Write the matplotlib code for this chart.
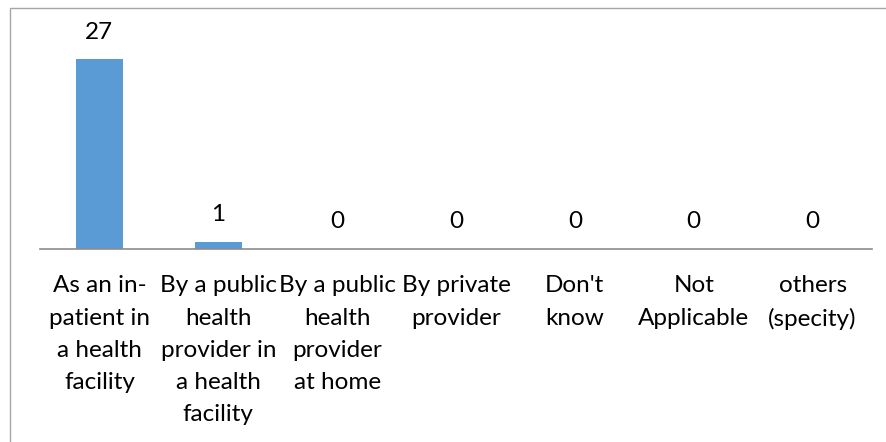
import matplotlib
matplotlib.use("Agg")
import matplotlib.pyplot as plt
from matplotlib.patches import Rectangle

categories = [
    "As an in-\npatient in\na health\nfacility",
    "By a public\nhealth\nprovider in\na health\nfacility",
    "By a public\nhealth\nprovider\nat home",
    "By private\nprovider",
    "Don't\nknow",
    "Not\nApplicable",
    "others\n(specity)",
]
counts = [27, 1, 0, 0, 0, 0, 0]

BAR_COLOR = "#5B9BD5"
AXIS_COLOR = "#8C8C8C"
FONT = "Lato"
FS = 17.5

W, H = 886, 442
fig = plt.figure(figsize=(W / 100, H / 100), dpi=100)

# chart frame (open to the right and bottom)
fig.patches.append(Rectangle((10 / W, -0.1), 1.2, 1 - 8 / H + 0.1,
                             transform=fig.transFigure, fill=False,
                             edgecolor="#A6A6A6", linewidth=1.0))

left, right = 40 / W, 872 / W
bottom, top = 1 - 249 / H, 1 - 38 / H
ax = fig.add_axes([left, bottom, right - left, top - bottom])

x = list(range(len(categories)))
bars = ax.bar(x, counts, width=0.395, color=BAR_COLOR, zorder=2)

ax.set_xlim(-0.5, len(categories) - 0.5)
ax.set_ylim(0, 30)

for spine in ["top", "right", "left"]:
    ax.spines[spine].set_visible(False)
ax.spines["bottom"].set_color(AXIS_COLOR)
ax.spines["bottom"].set_linewidth(1.2)
ax.set_yticks([])
ax.set_xticks([])

# value labels above each bar
for xi, v in zip(x, counts):
    ax.annotate(str(v), xy=(xi, v), xytext=(0, 19.5), textcoords="offset points",
                ha="center", va="center", fontsize=FS, fontfamily=FONT,
                color="#000000")

# category labels below the axis
for xi, lab in zip(x, categories):
    ax.annotate(lab, xy=(xi, 0), xycoords="data", xytext=(0, -19),
                textcoords="offset points", ha="center", va="top",
                multialignment="center", fontsize=FS, fontfamily=FONT,
                linespacing=1.66, color="#000000")

fig.savefig("out.png", dpi=100)
